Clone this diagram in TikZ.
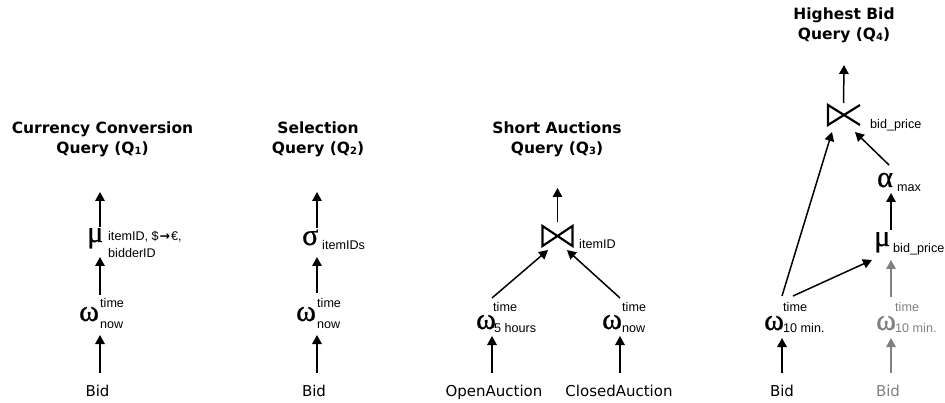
\documentclass[tikz,border=0pt]{standalone}
\usepackage{fontspec}
\setmainfont{DejaVu Sans}
\newfontfamily\greekfont{Liberation Serif}[FakeBold=0.8]
\newfontfamily\labelfont{Liberation Sans}
\newfontfamily\arrowfont{DejaVu Sans}
\usetikzlibrary{arrows.meta}
\definecolor{dimgrey}{HTML}{808080}
\tikzset{
  flow/.style={-{Triangle[length=9pt,width=9.5pt]}, line width=1.5pt},
  slot/.style={inner sep=0pt, outer sep=0pt, minimum width=0pt, minimum height=#1},
  source/.style={font=\fontsize{15}{18}\selectfont, anchor=base, text height=11pt,
                 text depth=3pt, inner xsep=0pt, inner ysep=12pt},
  op/.style={font=\greekfont\fontsize{30}{32}\selectfont, anchor=base west, inner sep=0pt},
  param/.style={font=\labelfont\fontsize{12.6}{14}\selectfont, anchor=base west, inner sep=0pt},
  heading/.style={font=\bfseries\fontsize{15.5}{20}\selectfont, anchor=base, inner sep=0pt},
  joinsym/.style={line width=2.2pt, line join=miter},
}
\newcommand{\qidx}[1]{Q\raisebox{-1pt}{\fontsize{10}{10}\selectfont #1}}

\begin{document}
\begin{tikzpicture}[x=1pt,y=-1pt]
\useasboundingbox (0,0) rectangle (945,403);

% ---- Currency conversion
\node[heading] (t1a) at (102.5,134) {Currency Conversion};
\node[heading] (t1b) at (102.5,154) {Query (\qidx{1})};
\coordinate (out1) at (100,192);
\node[slot=30pt] (mu1) at (100,242) {};
\node[op] (mu1g) at (87,242) {μ};
\node[param] (mu1a) at (108,241) {itemID, \$\hspace{1pt}{\arrowfont\bfseries →}\hspace{1pt}€,};
\node[param] (mu1b) at (108,258) {bidderID};
\node[slot=40pt] (w1) at (100,315) {};
\node[op] (w1g) at (79,321) {ω};
\node[param] (w1a) at (100,308) {time};
\node[param] (w1b) at (100,328) {now};
\node[source] (bid1) at (97.5,396) {Bid};
\draw[flow] (mu1.north) -- (out1);
\draw[flow] (w1.north) -- (mu1.south);
\draw[flow] (w1.south |- bid1.north) -- (w1.south);

% ---- Selection
\node[heading] (t2a) at (318,134) {Selection};
\node[heading] (t2b) at (318,154) {Query (\qidx{2})};
\coordinate (out2) at (317,192);
\node[slot=29pt] (s2) at (317,242.5) {};
\node[op] (s2g) at (302,245) {σ};
\node[param] (s2a) at (322,250) {itemIDs};
\node[slot=42pt] (w2) at (317,314) {};
\node[op] (w2g) at (296,321) {ω};
\node[param] (w2a) at (317,308) {time};
\node[param] (w2b) at (317,328) {now};
\node[source] (bid2) at (314,396) {Bid};
\draw[flow] (s2.north) -- (out2);
\draw[flow] (w2.north) -- (s2.south);
\draw[flow] (w2.south |- bid2.north) -- (w2.south);

% ---- Short auctions
\node[heading] (t3a) at (557,134) {Short Auctions};
\node[heading] (t3b) at (557,154) {Query (\qidx{3})};
\coordinate (out3) at (557.5,188);
\node[slot=28pt, minimum width=19pt] (j3) at (557.5,236) {};
\draw[joinsym, shift={(j3.center)}] (-15,-10) -- (15,10) -- (15,-10) -- (-15,10) -- cycle;
\node[param] (j3a) at (579,249) {itemID};
\node[slot=38pt] (w3l) at (492,317) {};
\node[op] (w3lg) at (476,329) {ω};
\node[param] (w3la) at (493,312) {time};
\node[param] (w3lb) at (494,332) {5 hours};
\node[slot=38pt] (w3r) at (620,317) {};
\node[op] (w3rg) at (602,329) {ω};
\node[param] (w3ra) at (622,312) {time};
\node[param] (w3rb) at (622,332) {now};
\node[source] (oa) at (494,396) {OpenAuction};
\node[source] (ca) at (619,396) {ClosedAuction};
\draw[flow] (j3.north) -- (out3);
\draw[flow] (w3l.north) -- (j3.south west);
\draw[flow] (w3r.north) -- (j3.south east);
\draw[flow] (w3l.south |- oa.north) -- (w3l.south);
\draw[flow] (w3r.south |- ca.north) -- (w3r.south);

% ---- Highest bid
\node[heading] (t4a) at (844,19.5) {Highest Bid};
\node[heading] (t4b) at (844,39.5) {Query (\qidx{4})};
\coordinate (out4) at (844,65);
\node[slot=29pt, minimum width=23pt] (sj4) at (843.5,117.5) {};
\draw[joinsym, shift={(sj4.center)}] (16.5,-12.5) -- (-15.5,7.5) -- (-15.5,-12.5) -- (16.5,7.5);
\node[param] (sj4a) at (870,129) {bid\_price};
\node[slot=28pt] (a4) at (889,179) {};
\node[op] (a4g) at (877,187) {α};
\node[param] (a4a) at (897,192) {max};
\node[slot=30pt, minimum width=19pt] (mu4) at (881.5,245) {};
\node[op] (mu4g) at (874,246) {μ};
\node[param] (mu4a) at (893,253) {bid\_price};
\node[slot=42pt, minimum width=11pt] (w4) at (787.5,317) {};
\node[op] (w4g) at (764,330) {ω};
\node[param] (w4a) at (783,312) {time};
\node[param] (w4b) at (783,332) {10 min.};
\node[slot=41pt] (w5) at (891,317.5) {};
\node[op, text=dimgrey] (w5g) at (876,330) {ω};
\node[param, text=dimgrey] (w5a) at (895,312) {time};
\node[param, text=dimgrey] (w5b) at (895,332) {10 min.};
\node[source] (bid4) at (782,396) {Bid};
\node[source, text=dimgrey] (bid5) at (888,396) {Bid};
\draw[flow] (sj4.north) -- (out4);
\draw[flow] (a4.north) -- (sj4.south east);
\draw[flow] (mu4.north east) -- (mu4.north east |- a4.south);
\draw[flow] (w4.north west) -- (sj4.south west);
\draw[flow] (w4.north east) -- (mu4.south west);
\draw[flow, draw=dimgrey, fill=dimgrey] (w5.north) -- (mu4.south east);
\draw[flow] (w4.south west |- bid4.north) -- (w4.south west);
\draw[flow, draw=dimgrey, fill=dimgrey] (w5.south |- bid5.north) -- (w5.south);
\end{tikzpicture}
\end{document}
